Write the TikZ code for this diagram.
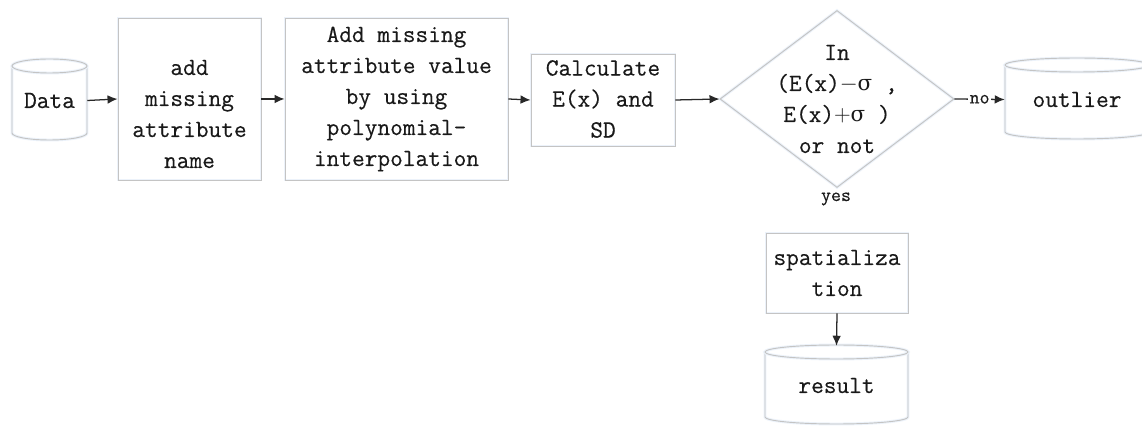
\documentclass[tikz,border=0pt]{standalone}
\usepackage{fontspec}
\usetikzlibrary{arrows.meta,shapes.geometric}
\newfontfamily\boxfont[FakeBold=0.35]{Latin Modern Mono}
\newfontfamily\greekfont{DejaVu Serif}
\newcommand\sig{{\greekfont\fontsize{16}{16}\selectfont σ}}
\definecolor{edgegray}{RGB}{196,196,196}
\definecolor{halo}{RGB}{236,242,250}
\definecolor{ink}{RGB}{25,25,25}
\definecolor{wire}{RGB}{40,40,40}
\tikzset{
  box/.style={draw=edgegray, line width=0.7pt, inner sep=0pt,
    preaction={draw=halo, line width=2.2pt}},
  cyl/.style={draw=edgegray, line width=0.7pt,
    preaction={draw=halo, line width=2.2pt}},
  txt/.style={text=ink, align=center, font=\boxfont\fontsize{18.5}{23.25}\selectfont},
  lbl/.style={text=ink, font=\boxfont\fontsize{14.5}{16}\selectfont, inner sep=1pt},
  flow/.style={draw=wire, line width=0.95pt, -{Latex[length=7.5pt,width=6.5pt]}},
}
% database cylinder: name, centre x, top y, bottom y, half width, label
\newcommand\dbcyl[6]{%
  \draw[cyl] (#2-#5,#3+7) -- (#2-#5,#4-7)
    arc[start angle=180,end angle=360,x radius={#5*0.75pt},y radius=5.25pt]
    -- (#2+#5,#3+7);
  \draw[cyl] (#2,#3+7) ellipse[x radius={#5*0.75pt},y radius=5.25pt];
  \node[txt, inner sep=0pt, minimum width={2*#5*0.75pt},
        minimum height={(#4-#3)*0.75pt}] (#1) at (#2,{(#3+#4)/2+1}) {#6};
}
\begin{document}
\begin{tikzpicture}[x=0.75pt,y=-0.75pt]
\clip (0,0) rectangle (1142,427);
\fill[white] (0,0) rectangle (1142,427);

% data sources and sinks
\dbcyl{data}{49.5}{59}{140}{37.5}{Data}
\dbcyl{outl}{1077}{58}{139}{72}{outlier}
\dbcyl{res}{836.5}{345}{424}{71.5}{result}

% processing steps
\node[box, minimum width={143*0.75pt}, minimum height={162*0.75pt}] (b1) at (189.5,99) {};
\node[txt] (t1) at (189.5,114) {add\\missing\\attribute\\name};

\node[box, minimum width={223*0.75pt}, minimum height={162*0.75pt}] (b2) at (396.5,99) {};
\node[txt] (t2) at (396.5,99) {Add missing\\attribute value\\by using\\polynomial-\\interpolation};

\node[box, minimum width={144*0.75pt}, minimum height={92*0.75pt}] (b3) at (603,100) {};
\node[txt] (t3) at (603,99) {Calculate\\E(x) and\\SD};

\node[diamond, draw=edgegray, line width=0.7pt, inner sep=0pt,
      preaction={draw=halo, line width=2.2pt},
      minimum width={234*0.75pt}, minimum height={177*0.75pt}] (dec) at (837,99) {};
\node[txt] (td) at (837,99) {In\\(E(x)$-$\sig{} ,\\E(x)$+$\sig{} )\\or not};

\node[box, minimum width={142*0.75pt}, minimum height={80*0.75pt}] (sp) at (837,273) {};
\node[txt] (ts) at (837,273) {spatializa\\tion};

\node[lbl] (yes) at (836,199) {yes};

% connectors
\draw[flow] (data.east) -- (b1.west);
\draw[flow] (b1.east) -- (b2.west);
\draw[flow] (b2.east) -- (b3.west);
\draw[flow] (b3.east) -- (dec.west);
\draw[flow] (dec.east) -- node[lbl, fill=white] (no) {no} (outl.west);
\draw[flow] (sp.south) -- (res.north);
\end{tikzpicture}
\end{document}
